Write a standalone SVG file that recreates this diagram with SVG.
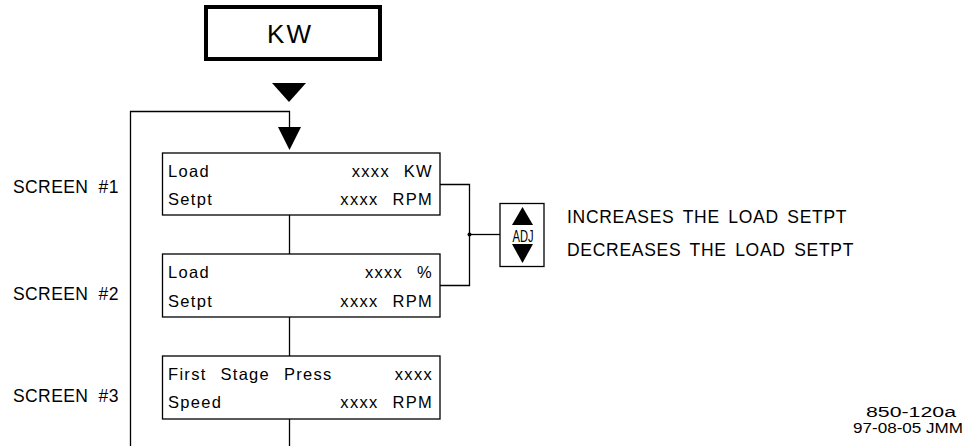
<svg xmlns="http://www.w3.org/2000/svg" width="968" height="446" viewBox="0 0 968 446">
<style>
  text { font-family: "Liberation Sans", Arial, sans-serif; fill: #000; }
  .scr { font-size: 16.5px; letter-spacing: 1.3px; word-spacing: 8px; }
  .lbl { font-size: 17.5px; letter-spacing: 0.4px; word-spacing: 5px; }
  .note { font-size: 17.5px; letter-spacing: 0.7px; word-spacing: 3px; }
  .ref { font-size: 14px; }
  .box { fill: #fff; stroke: #000; stroke-width: 1.3; }
  .ln { fill: none; stroke: #000; stroke-width: 1.3; }
  .tri { fill: #000; stroke: none; }
</style>
<rect width="968" height="446" fill="#fff"/>

<g id="connectors">
  <path class="ln" d="M130.5 446 V111.5 H289.5 V128"/>
  <path class="ln" d="M289.5 215 V254"/>
  <path class="ln" d="M289.5 317 V356"/>
  <path class="ln" d="M289.5 419 V446"/>
  <path class="ln" d="M440 184.5 H469.5 V285.5 H440"/>
  <path class="ln" d="M469.5 234.5 H500"/>
  <circle cx="469.5" cy="234.5" r="2" fill="#000"/>
  <polygon class="tri" points="272,83 306,83 289,102"/>
  <polygon class="tri" points="278,127 301,127 289.5,150"/>
</g>

<g id="kw-title">
  <rect x="206" y="7" width="174" height="52" fill="#fff" stroke="#000" stroke-width="4"/>
  <text x="290" y="43" font-size="26" letter-spacing="2" text-anchor="middle">KW</text>
</g>

<g id="screen1">
  <rect class="box" x="162.5" y="153" width="277.5" height="62"/>
  <text class="scr" x="168" y="177">Load</text>
  <text class="scr" x="433" y="177" text-anchor="end">xxxx KW</text>
  <text class="scr" x="168" y="205">Setpt</text>
  <text class="scr" x="433" y="205" text-anchor="end">xxxx RPM</text>
</g>

<g id="screen2">
  <rect class="box" x="162.5" y="254" width="277.5" height="63"/>
  <text class="scr" x="168" y="278">Load</text>
  <text class="scr" x="433" y="278" text-anchor="end">xxxx %</text>
  <text class="scr" x="168" y="307">Setpt</text>
  <text class="scr" x="433" y="307" text-anchor="end">xxxx RPM</text>
</g>

<g id="screen3">
  <rect class="box" x="162.5" y="356" width="277.5" height="63"/>
  <text class="scr" x="168" y="380">First Stage Press</text>
  <text class="scr" x="433" y="380" text-anchor="end">xxxx</text>
  <text class="scr" x="168" y="408">Speed</text>
  <text class="scr" x="433" y="408" text-anchor="end">xxxx RPM</text>
</g>

<g id="screen-labels">
  <text class="lbl" x="13" y="193">SCREEN #1</text>
  <text class="lbl" x="13" y="300">SCREEN #2</text>
  <text class="lbl" x="13" y="402">SCREEN #3</text>
</g>

<g id="adj-key">
  <rect class="box" x="500" y="203.5" width="44" height="63"/>
  <polygon class="tri" points="522.5,207 533,225 512,225"/>
  <text x="523" y="242" font-size="16" text-anchor="middle" textLength="21" lengthAdjust="spacingAndGlyphs">ADJ</text>
  <polygon class="tri" points="512,244 533,244 522.5,263"/>
</g>

<g id="adj-notes">
  <text class="note" x="567" y="223">INCREASES THE LOAD SETPT</text>
  <text class="note" x="567" y="256">DECREASES THE LOAD SETPT</text>
</g>

<g id="drawing-ref">
  <text class="ref" x="866" y="417" textLength="90" lengthAdjust="spacingAndGlyphs">850-120a</text>
  <text class="ref" x="853" y="433" textLength="110" lengthAdjust="spacingAndGlyphs">97-08-05 JMM</text>
</g>
</svg>
